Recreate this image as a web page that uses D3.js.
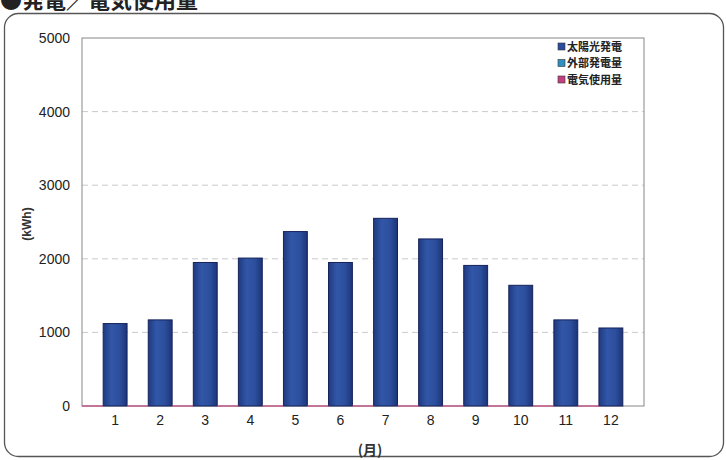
<!DOCTYPE html>
<html>
<head>
<meta charset="utf-8">
<script src="https://cdn.jsdelivr.net/npm/d3@7"></script>
<style>
  body { margin: 0; background: #fff; }
  svg { display: block; font-family: "Liberation Sans", Arial, sans-serif; }
</style>
</head>
<body>
<div id="chart"></div>
<script>
// data
var months = ["1", "2", "3", "4", "5", "6", "7", "8", "9", "10", "11", "12"];
var solar = [1120, 1170, 1950, 2010, 2370, 1950, 2550, 2270, 1910, 1640, 1170, 1060];
var external = [0, 0, 0, 0, 0, 0, 0, 0, 0, 0, 0, 0];
var usage = [0, 0, 0, 0, 0, 0, 0, 0, 0, 0, 0, 0];
var seriesNames = ["太陽光発電", "外部発電量", "電気使用量"];
var seriesColors = ["#2a4c9e", "#2f8fc0", "#c2407e"];
var yTicks = [0, 1000, 2000, 3000, 4000, 5000];

var W = 726, H = 460;
var plot = { left: 82, right: 644, top: 38, bottom: 406 };

var svg = d3.select("#chart").append("svg").attr("width", W).attr("height", H);

var defs = svg.append("defs");
var grad = defs.append("linearGradient").attr("id", "barGrad")
  .attr("x1", "0%").attr("x2", "100%").attr("y1", "0%").attr("y2", "0%");
grad.append("stop").attr("offset", "0%").attr("stop-color", "#1f3a80");
grad.append("stop").attr("offset", "35%").attr("stop-color", "#3257a8");
grad.append("stop").attr("offset", "70%").attr("stop-color", "#2c4e9c");
grad.append("stop").attr("offset", "100%").attr("stop-color", "#1c3478");

// outer frame
svg.append("rect")
  .attr("x", 4.5).attr("y", 13.5).attr("width", 719).attr("height", 443)
  .attr("rx", 14).attr("fill", "none").attr("stroke", "#555").attr("stroke-width", 1.3);

// title (cut off at the top like the scan)
svg.append("text")
  .attr("x", 0).attr("y", 8)
  .attr("font-family", "'Noto Sans CJK JP', sans-serif")
  .attr("font-weight", "bold").attr("font-size", 22).attr("fill", "#222")
  .text("●発電／電気使用量");

var x = d3.scaleBand().domain(months).range([plot.left, plot.right]).padding(0.47);
var y = d3.scaleLinear().domain([0, 5000]).range([plot.bottom, plot.top]);

// grid lines
svg.append("g").selectAll("line").data(yTicks.filter(d => d > 0 && d < 5000)).enter().append("line")
  .attr("x1", plot.left).attr("x2", plot.right)
  .attr("y1", d => y(d)).attr("y2", d => y(d))
  .attr("stroke", "#bbb").attr("stroke-dasharray", "6,4").attr("stroke-width", 0.8);

// plot frame
svg.append("rect")
  .attr("x", plot.left).attr("y", plot.top)
  .attr("width", plot.right - plot.left).attr("height", plot.bottom - plot.top)
  .attr("fill", "none").attr("stroke", "#888").attr("stroke-width", 1);

// bars
svg.append("g").selectAll("rect").data(solar).enter().append("rect")
  .attr("x", (d, i) => x(months[i]))
  .attr("y", d => y(d))
  .attr("width", x.bandwidth())
  .attr("height", d => y(0) - y(d))
  .attr("fill", "url(#barGrad)")
  .attr("stroke", "#16225a").attr("stroke-width", 1);

// zero series along the baseline
svg.append("g").selectAll("line").data(usage).enter().append("line")
  .attr("x1", (d, i) => x(months[i]) - x.step() * 0.47)
  .attr("x2", (d, i) => x(months[i]))
  .attr("y1", d => y(d)).attr("y2", d => y(d))
  .attr("stroke", seriesColors[2]).attr("stroke-width", 1.2);

// axes
var yAxis = svg.append("g").attr("transform", "translate(" + plot.left + ",0)")
  .call(d3.axisLeft(y).tickValues(yTicks).tickFormat(d3.format("d")).tickSize(0).tickPadding(12));
yAxis.select(".domain").remove();
yAxis.selectAll("text").attr("font-size", 14).attr("fill", "#222");

var xAxis = svg.append("g").attr("transform", "translate(0," + plot.bottom + ")")
  .call(d3.axisBottom(x).tickSize(0).tickPadding(9));
xAxis.select(".domain").remove();
xAxis.selectAll("text").attr("font-size", 14).attr("fill", "#222");

// axis titles
svg.append("text")
  .attr("transform", "translate(31,224) rotate(-90)")
  .attr("text-anchor", "middle")
  .attr("font-weight", "bold").attr("font-size", 12).attr("fill", "#333")
  .text("(kWh)");

svg.append("text")
  .attr("x", 370).attr("y", 455)
  .attr("text-anchor", "middle")
  .attr("font-family", "'Noto Sans CJK JP', sans-serif")
  .attr("font-weight", "bold").attr("font-size", 14).attr("fill", "#333")
  .text("(月)");

// legend
var legend = svg.append("g").attr("transform", "translate(558,47)");
seriesNames.forEach(function (name, i) {
  var g = legend.append("g").attr("transform", "translate(0," + i * 16.5 + ")");
  g.append("rect").attr("x", 0).attr("y", -4).attr("width", 7).attr("height", 7)
    .attr("fill", seriesColors[i]).attr("stroke", "#333").attr("stroke-width", 0.6);
  g.append("text").attr("x", 9).attr("y", 0).attr("dy", "0.36em")
    .attr("font-family", "'Noto Sans CJK JP', sans-serif")
    .attr("font-weight", "bold").attr("font-size", 11).attr("fill", "#222")
    .text(name);
});
</script>
</body>
</html>
